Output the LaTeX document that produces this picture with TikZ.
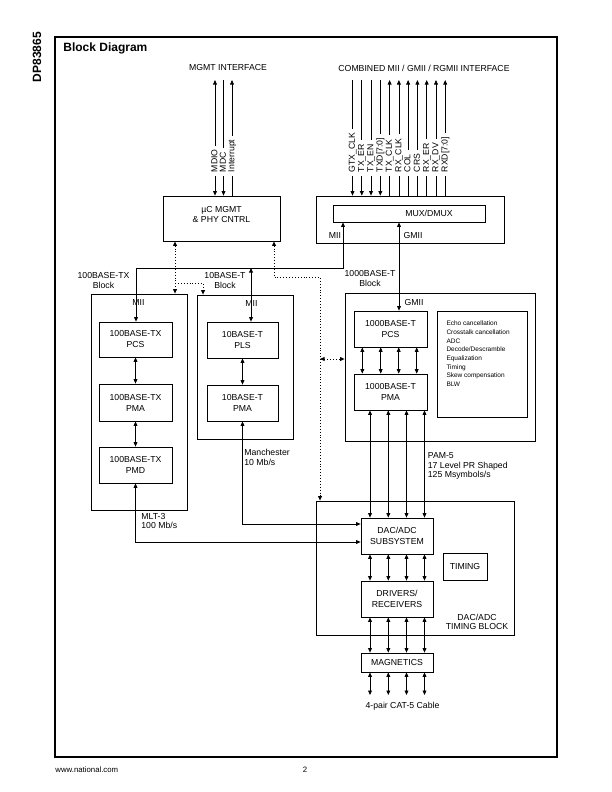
\documentclass[tikz,border=0pt]{standalone}
\usepackage{fontspec}
\setmainfont{Liberation Sans}
\usetikzlibrary{arrows.meta}
\begin{document}
\begin{tikzpicture}[x=1pt,y=-1pt,
  >={Triangle[width=3.8pt,length=4.5pt]},
  line width=0.75pt,
  every node/.style={font=\fontsize{8.7}{11}\selectfont},
  box/.style={draw, line width=0.75pt, inner sep=0pt, align=center},
  bx/.style 2 args={box, minimum width=#1pt, minimum height=#2pt},
  lbl/.style={align=center, inner sep=0pt, font=\fontsize{8.7}{9.5}\selectfont},
  sig/.style={rotate=90, anchor=west, inner xsep=3.5pt, inner ysep=0pt, text height=6.3pt, text depth=1.6pt},
  dots/.style={dotted, line width=0.9pt}]

\useasboundingbox (0,0) rectangle (612,792);
\draw[line width=1.2pt] (55,37) rectangle (557,757);

% titles
\node[rotate=90, inner sep=0pt, font=\bfseries\fontsize{12}{14}\selectfont] (dp) at (37,57) {DP83865};
\node[anchor=west, inner sep=0pt, font=\bfseries\fontsize{12}{14}\selectfont] (title) at (63,48) {Block Diagram};
\node[inner sep=0pt] (mgmtif) at (228,68) {MGMT INTERFACE};
\node[inner sep=0pt] (combif) at (424,68) {COMBINED MII / GMII / RGMII INTERFACE};

% top boxes
\node[bx={117}{45}, label={[align=center, inner sep=0pt, font=\fontsize{8.7}{10}\selectfont, yshift=4pt]center:{µC MGMT\\\& PHY CNTRL}}] (mgmt) at (221.5,218.5) {};
\node[bx={188}{47}] (muxo) at (410,219.5) {};
\node[bx={152}{17}] (mux) at (409,213.5) {\hspace*{40pt}MUX/DMUX};
\node[lbl] (miilab) at (335,236) {MII};
\node[lbl] (gmiilab) at (413,236) {GMII};

% management signals
\foreach \px/\lab/\up/\dn [count=\i] in {215/MDIO/1/1, 223.5/MDC/0/1, 232/Interrupt/1/0}{
  \coordinate (ms\i) at (\px,80);
  \node[sig] (ml\i) at (\px,176) {\lab};
  \ifnum\up=1 \draw[<-] (ms\i) -- (ml\i); \else \draw (ms\i) -- (ml\i); \fi
  \ifnum\dn=1 \draw[->] (ml\i) -- (ml\i |- mgmt.north); \else \draw (ml\i) -- (ml\i |- mgmt.north); \fi
}

% MII/GMII signals
\foreach \px/\lab/\up/\dn [count=\i] in {352.5/GTX\_CLK/0/1, 361.8/TX\_ER/0/1, 371.0/TX\_EN/0/1, 380.3/{TXD[7:0]}/0/1,
   389.6/TX\_CLK/1/0, 398.9/RX\_CLK/1/0, 408.1/COL/1/0, 417.4/CRS/1/0, 426.7/RX\_ER/1/0, 436.0/RX\_DV/1/0, 445.2/{RXD[7:0]}/1/0}{
  \coordinate (ss\i) at (\px,80);
  \node[sig] (sl\i) at (\px,176) {\lab};
  \ifnum\up=1 \draw[<-] (ss\i) -- (sl\i); \else \draw (ss\i) -- (sl\i); \fi
  \ifnum\dn=1 \draw[->] (sl\i) -- (sl\i |- muxo.north); \else \draw (sl\i) -- (sl\i |- muxo.north); \fi
}

% 100BASE-TX block
\node[lbl] (l100) at (103.5,280.5) {100BASE-TX\\Block};
\node[bx={96}{216}] (b100) at (139,402) {};
\node[lbl] (mii100) at (138.5,303) {MII};
\node[bx={73}{35}] (pcs100) at (135.5,339.5) {100BASE-TX\\PCS};
\node[bx={73}{37}] (pma100) at (135.5,402.5) {100BASE-TX\\PMA};
\node[bx={73}{36}] (pmd100) at (135.5,465) {100BASE-TX\\PMD};
\draw[<->] (pcs100) -- (pma100);
\draw[<->] (pma100) -- (pmd100);

% 10BASE-T block
\node[lbl] (l10) at (225,280.5) {10BASE-T\\Block};
\node[bx={96}{144}] (b10) at (245,367) {};
\node[lbl] (mii10lab) at (251.5,304) {MII};
\node[bx={71}{36}] (pls10) at (242.5,340) {10BASE-T\\PLS};
\node[bx={71}{36}] (pma10) at (242.5,403) {10BASE-T\\PMA};
\draw[<->] (pls10) -- (pma10);

% 1000BASE-T block
\node[lbl] (l1000) at (370,278.5) {1000BASE-T\\Block};
\node[bx={190}{148}] (b1000) at (440,367) {};
\node[lbl] (gmii1000) at (414,303) {GMII};
\node[bx={73}{36}] (pcs1000) at (390.5,329) {1000BASE-T\\PCS};
\node[bx={73}{36}] (pma1000) at (390.5,392) {1000BASE-T\\PMA};
\node[bx={90}{106}, label={[anchor=north west, align=left, inner sep=0pt, font=\fontsize{6.5}{8.7}\selectfont, xshift=9.5pt, yshift=-10pt]north west:{Echo cancellation\\Crosstalk cancellation\\ADC\\Decode/Descramble\\Equalization\\Timing\\Skew compensation\\BLW}}] (feat) at (482,364) {};

% DAC/ADC timing block
\node[bx={198}{134}] (dacblk) at (415,568) {};
\node[bx={72}{36}] (dac) at (397,536) {DAC/ADC\\SUBSYSTEM};
\node[bx={44}{27}] (tim) at (465,566.5) {TIMING};
\node[bx={72}{36}] (drv) at (397,599) {DRIVERS/\\RECEIVERS};
\node[lbl] (ltim) at (477,622) {DAC/ADC\\TIMING BLOCK};
\node[bx={72}{19}] (mag) at (397,662.5) {MAGNETICS};
\node[inner sep=0pt] (cable) at (402.5,706.5) {4-pair CAT-5 Cable};

% MII / GMII connections
\coordinate (miiR) at (343,268);
\coordinate (miiL) at (136,268);
\draw[<->] (mux.south -| miiR) -- (miiR) -- (miiL) -- (pcs100.north -| miiL);
\coordinate (mii10) at (251,268);
\draw[<->] (mii10) -- (pls10.north -| mii10);
\coordinate (gmii) at (399,250);
\draw[<->] (mux.south -| gmii) -- (pcs1000.north -| gmii);

% PCS-PMA 1000 and DAC chain
\coordinate (w1) at (362.3,0); \coordinate (w2) at (380.7,0);
\coordinate (w3) at (398.7,0); \coordinate (w4) at (416.7,0);
\coordinate (v1) at (370,0); \coordinate (v2) at (388.3,0);
\coordinate (v3) at (406.5,0); \coordinate (v4) at (424.5,0);
\foreach \k in {1,...,4}{
  \draw[<->] (pcs1000.south -| w\k) -- (pma1000.north -| w\k);
  \draw[<->] (pma1000.south -| v\k) -- (dac.north -| v\k);
  \draw[<->] (dac.south -| v\k) -- (drv.north -| v\k);
  \draw[<->] (drv.south -| v\k) -- (mag.north -| v\k);
  \path (v\k) ++(0,695) coordinate (cab\k);
  \draw[<->] (mag.south -| v\k) -- (cab\k);
}

% line codes
\coordinate (manc) at (242.5,524);
\draw[<->] (pma10.south) -- (manc) -- (dac.west |- manc);
\coordinate (mlt) at (135.5,542);
\draw[<->] (pmd100.south) -- (mlt) -- (dac.west |- mlt);
\node[lbl, align=left, anchor=west] (manlab) at (244,457.5) {Manchester\\10 Mb/s};
\node[lbl, align=left, anchor=west] (mltlab) at (141,521) {MLT-3\\100 Mb/s};
\node[lbl, align=left, anchor=west] (pamlab) at (427.5,466) {PAM-5\\17 Level PR Shaped\\125 Msymbols/s};

% management dotted connections
\coordinate (d1) at (175,0);
\draw[dots,<->] (mgmt.south -| d1) -- (b100.north -| d1);
\coordinate (d1b) at (175,283);
\coordinate (d1c) at (203,283);
\draw[dots,->] (d1b) -- (d1c) -- (b10.north -| d1c);
\coordinate (d2) at (274,277);
\coordinate (d2b) at (320,277);
\draw[dots,<->] (mgmt.south -| d2) -- (d2) -- (d2b) -- (dacblk.north -| d2b);
\coordinate (d3) at (320,359);
\draw[dots,<->] (d3) -- (b1000.west |- d3);

% footer
\node[anchor=west, inner sep=0pt, font=\fontsize{7.8}{9}\selectfont] (url) at (55,770) {www.national.com};
\node[inner sep=0pt, font=\fontsize{7.8}{9}\selectfont] (page) at (305,770) {2};
\end{tikzpicture}
\end{document}
